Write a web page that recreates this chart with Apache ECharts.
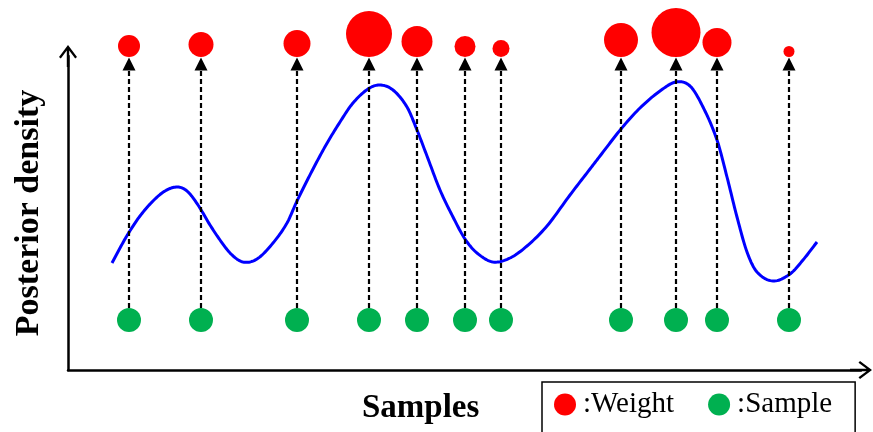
<!DOCTYPE html>
<html>
<head>
<meta charset="utf-8">
<script src="https://cdn.jsdelivr.net/npm/echarts@6/dist/echarts.min.js"></script>
<style>html,body{margin:0;padding:0;background:#fff}#c{width:873px;height:432px}</style>
</head>
<body>
<div id="c"></div>
<script>
// ---- data ----
var sampleX = [61, 133, 229, 301, 349, 397, 433, 553, 608, 649, 721];
var weightSize = [22, 25, 27, 46, 31, 21, 17, 34, 49, 29, 11];
var curveX = [44, 52, 60, 72, 85, 97, 109, 119, 130, 142, 152, 163, 175, 189, 205, 219, 229, 244, 258, 272, 285, 300, 312, 325, 339, 349, 359, 372, 385, 397, 409, 425, 442, 459, 479, 502, 522, 532, 553, 572, 592, 608, 622, 635, 649, 659, 669, 679, 689, 705, 722, 735, 749];
var curveY = [107, 122, 136, 154, 169, 179, 183, 179, 165, 145, 130, 116, 108, 111, 127, 147, 169, 199, 225, 248, 267, 281, 285, 280, 263, 240, 214, 180, 153, 131, 117, 108, 112, 124, 144, 175, 201, 214, 241, 262, 279, 288, 284, 263, 230, 193, 153, 118, 98, 89, 96, 110, 128];
var sampleLevel = 50;   // y of sample dots
var weightLevel = 313;  // y where weight dots rest
var seriesNames = ['Weight', 'Sample'];
var axisTitles = ['Samples', 'Posterior density'];

// ---- layout ----
var FONT = '"Liberation Serif", "Times New Roman", serif';
var arrowPath = 'path://M9,0 L18,12 L16.2,13.5 L10.2,5.4 L10.2,22 L7.8,22 L7.8,5.4 L1.8,13.5 L0,12 Z';
var arrowTop = 62, arrowEnd = 306;

var curve = curveX.map(function (x, i) { return [x, curveY[i]]; });
var samples = sampleX.map(function (x) { return [x, sampleLevel]; });
var weights = sampleX.map(function (x, i) { return [x, weightLevel, weightSize[i]]; });
var arrows = sampleX.map(function (x) { return [{ coord: [x, arrowTop] }, { coord: [x, arrowEnd] }]; });

// smooth cubic Hermite drawing of the curve, in pixel space after the axis scales
function renderCurve(params, api) {
  var p = curve.map(function (d) { return api.coord(d); });
  var n = p.length, m = [];
  for (var i = 0; i < n; i++) {
    var a = p[Math.max(0, i - 1)], b = p[Math.min(n - 1, i + 1)];
    m.push((b[1] - a[1]) / (b[0] - a[0]));
  }
  var pts = [p[0]];
  for (var k = 0; k < n - 1; k++) {
    var x0 = p[k][0], y0 = p[k][1], x1 = p[k + 1][0], y1 = p[k + 1][1], h = x1 - x0;
    for (var s = 1; s <= 12; s++) {
      var t = s / 12, t2 = t * t, t3 = t2 * t;
      var y = (2 * t3 - 3 * t2 + 1) * y0 + (t3 - 2 * t2 + t) * h * m[k] + (-2 * t3 + 3 * t2) * y1 + (t3 - t2) * h * m[k + 1];
      pts.push([x0 + t * h, y]);
    }
  }
  return { type: 'polyline', shape: { points: pts }, style: { stroke: '#0000FF', lineWidth: 3, fill: null, lineJoin: 'round' } };
}

var axisLine = { show: true, lineStyle: { color: '#000', width: 2.5 }, symbol: ['none', arrowPath], symbolSize: [18, 22] };

var chart = echarts.init(document.getElementById('c'), null, { renderer: 'canvas' });
chart.setOption({
  animation: false,
  backgroundColor: '#fff',
  grid: { left: 68, right: 12, top: 56, bottom: 62 },
  title: {
    text: axisTitles[0], left: 357, top: 387,
    textStyle: { fontFamily: FONT, fontSize: 33, fontWeight: 'bold', color: '#000' }
  },
  legend: {
    data: seriesNames,
    left: 542, top: 382,
    padding: [8, 23, 30, 12],
    borderColor: '#000', borderWidth: 1.5,
    itemGap: 34, itemWidth: 22, itemHeight: 22, icon: 'circle',
    formatter: ':{name}',
    textStyle: { fontFamily: FONT, fontSize: 29, color: '#000', padding: [8, 0, 0, 2] }
  },
  xAxis: {
    type: 'value', min: 0, max: 793,
    axisLine: axisLine, axisTick: { show: false }, axisLabel: { show: false }, splitLine: { show: false }
  },
  yAxis: {
    type: 'value', min: 0, max: 314,
    name: axisTitles[1], nameLocation: 'middle', nameGap: 22,
    nameTextStyle: { fontFamily: FONT, fontSize: 34, fontWeight: 'bold', color: '#000' },
    axisLine: axisLine, axisTick: { show: false }, axisLabel: { show: false }, splitLine: { show: false }
  },
  series: [
    {
      name: 'density', type: 'custom', data: [curve[0]], renderItem: renderCurve,
      z: 3, silent: true, clip: false
    },
    {
      name: seriesNames[1], type: 'scatter', data: samples, symbolSize: 24,
      itemStyle: { color: '#00B050', opacity: 1 }, z: 4,
      markLine: {
        silent: true, symbol: ['none', 'triangle'], symbolSize: 13,
        label: { show: false }, animation: false,
        lineStyle: { color: '#000', width: 2.2, type: [5, 3] },
        emphasis: { disabled: true },
        data: arrows
      }
    },
    {
      name: seriesNames[0], type: 'scatter', data: weights,
      symbolSize: function (v) { return v[2]; },
      symbolOffset: [0, '-50%'],
      itemStyle: { color: '#FF0000', opacity: 1 }, z: 4
    }
  ]
});
</script>
</body>
</html>
